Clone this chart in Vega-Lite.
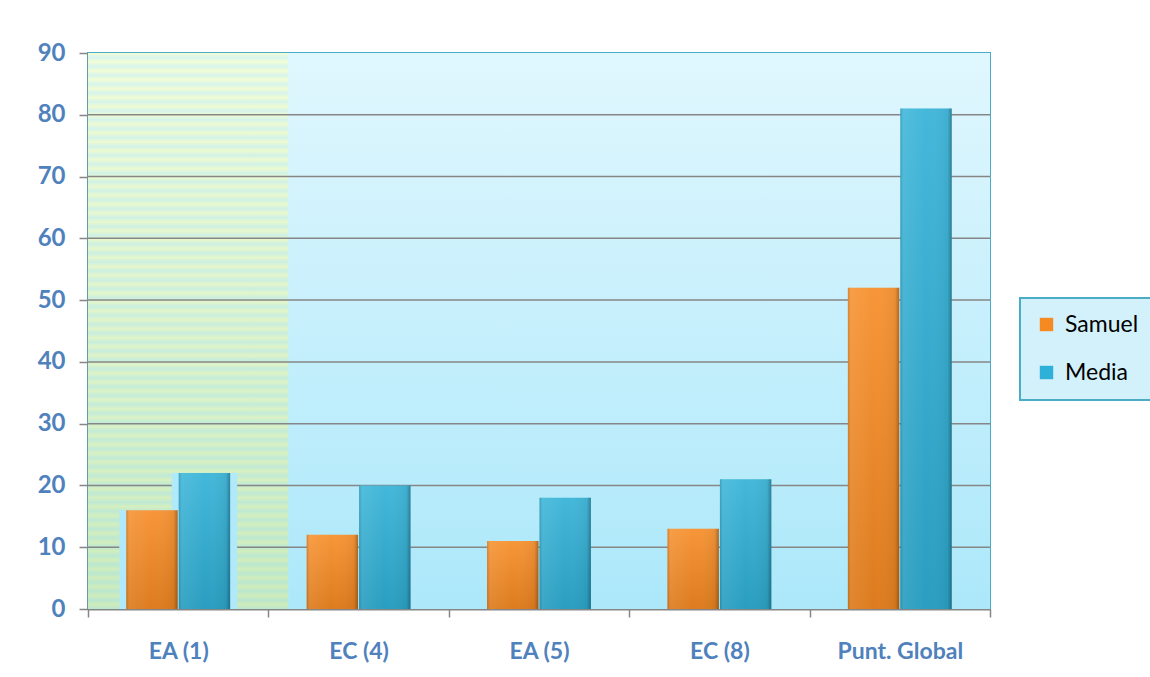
{
  "$schema": "https://vega.github.io/schema/vega-lite/v6.json",
  "width": 902,
  "height": 556,
  "autosize": {"type": "none"},
  "padding": {"left": 88, "top": 53, "right": 160, "bottom": 68},
  "background": "white",
  "config": {
    "view": {"stroke": "#4bacc6", "strokeWidth": 2},
    "font": "Lato",
    "axisX": {"domainColor": "#868686", "domainWidth": 2, "tickColor": "#868686", "tickWidth": 1.5, "tickSize": 8, "tickBand": "extent", "labelFont": "Lato", "labelFontWeight": "bold", "labelFontSize": 23, "labelColor": "#4f81bd", "labelPadding": 23, "grid": false, "labelAngle": 0},
    "axisY": {"domainColor": "#868686", "domainWidth": 2, "tickColor": "#868686", "tickWidth": 1.5, "tickSize": 9, "tickCount": 10, "labelFont": "Lato", "labelFontWeight": "bold", "labelFontSize": 24, "labelColor": "#4f81bd", "labelPadding": 14, "grid": false},
    "legend": {"orient": "none", "legendX": 932, "legendY": 245, "direction": "vertical", "fillColor": "#d3f1fb", "strokeColor": "#4bacc6", "strokeWidth": 2, "padding": 15, "symbolType": "square", "symbolSize": 180, "symbolStrokeWidth": 0, "labelFont": "Lato", "labelFontSize": 23, "labelColor": "#000000", "rowPadding": 24, "labelOffset": 7}
  },
  "datasets": {
    "scores": [
      {"cat": "EA (1)", "series": "Samuel", "value": 16},
      {"cat": "EA (1)", "series": "Media", "value": 22},
      {"cat": "EC (4)", "series": "Samuel", "value": 12},
      {"cat": "EC (4)", "series": "Media", "value": 20},
      {"cat": "EA (5)", "series": "Samuel", "value": 11},
      {"cat": "EA (5)", "series": "Media", "value": 18},
      {"cat": "EC (8)", "series": "Samuel", "value": 13},
      {"cat": "EC (8)", "series": "Media", "value": 21},
      {"cat": "Punt. Global", "series": "Samuel", "value": 52},
      {"cat": "Punt. Global", "series": "Media", "value": 81}
    ],
    "band": [{"cat": "EA (1)"}],
    "bg": [{"id": 1}],
    "grid": [{"v": 10}, {"v": 20}, {"v": 30}, {"v": 40}, {"v": 50}, {"v": 60}, {"v": 70}, {"v": 80}]
  },
  "layer": [
    {
      "data": {"name": "bg"},
      "mark": {"type": "rect", "fill": {"gradient": "linear", "x1": 0, "y1": 0, "x2": 0, "y2": 1, "stops": [{"offset": 0, "color": "#e0f7fe"}, {"offset": 1, "color": "#ace8fa"}]}},
      "encoding": {"y": {"datum": 0, "type": "quantitative", "title": null}, "y2": {"datum": 90}}
    },
    {
      "data": {"name": "band"},
      "mark": {"type": "bar", "clip": true, "width": {"band": 1.22}, "fill": {"gradient": "linear", "x1": 0, "y1": 0, "x2": 0, "y2": 1, "stops": [
        {"offset": 0, "color": "#f3fdd5"}, {"offset": 0.008, "color": "#d8f5ee"}, {"offset": 0.016, "color": "#f3fdd5"}, {"offset": 0.024, "color": "#d8f5ee"}, {"offset": 0.032, "color": "#f3fdd5"}, {"offset": 0.04, "color": "#d8f5ee"}, {"offset": 0.048, "color": "#f3fdd5"}, {"offset": 0.056, "color": "#d8f5ee"}, {"offset": 0.064, "color": "#f3fdd5"}, {"offset": 0.072, "color": "#d8f5ee"},
        {"offset": 0.08, "color": "#f3fdd5"}, {"offset": 0.088, "color": "#d8f5ee"}, {"offset": 0.096, "color": "#f3fdd5"}, {"offset": 0.104, "color": "#d8f5ee"}, {"offset": 0.112, "color": "#f3fdd5"}, {"offset": 0.12, "color": "#d8f5ee"}, {"offset": 0.128, "color": "#f3fdd5"}, {"offset": 0.136, "color": "#d8f5ee"}, {"offset": 0.144, "color": "#f3fdd5"}, {"offset": 0.152, "color": "#d8f5ee"},
        {"offset": 0.16, "color": "#f3fdd5"}, {"offset": 0.168, "color": "#d8f5ee"}, {"offset": 0.176, "color": "#f3fdd5"}, {"offset": 0.184, "color": "#d8f5ee"}, {"offset": 0.192, "color": "#f3fdd5"}, {"offset": 0.2, "color": "#d8f5ee"}, {"offset": 0.208, "color": "#f3fdd5"}, {"offset": 0.216, "color": "#d8f5ee"}, {"offset": 0.224, "color": "#f3fdd5"}, {"offset": 0.232, "color": "#d8f5ee"},
        {"offset": 0.24, "color": "#f3fdd5"}, {"offset": 0.248, "color": "#d8f5ee"}, {"offset": 0.256, "color": "#f3fdd5"}, {"offset": 0.264, "color": "#d8f5ee"}, {"offset": 0.272, "color": "#f3fdd5"}, {"offset": 0.28, "color": "#d8f5ee"}, {"offset": 0.288, "color": "#f3fdd5"}, {"offset": 0.296, "color": "#d8f5ee"}, {"offset": 0.304, "color": "#f3fdd5"}, {"offset": 0.312, "color": "#d8f5ee"},
        {"offset": 0.32, "color": "#f3fdd5"}, {"offset": 0.328, "color": "#d8f5ee"}, {"offset": 0.336, "color": "#f3fdd5"}, {"offset": 0.344, "color": "#d8f5ee"}, {"offset": 0.352, "color": "#f3fdd5"}, {"offset": 0.36, "color": "#d8f5ee"}, {"offset": 0.368, "color": "#f3fdd5"}, {"offset": 0.376, "color": "#d8f5ee"}, {"offset": 0.384, "color": "#f3fdd5"}, {"offset": 0.392, "color": "#d8f5ee"},
        {"offset": 0.4, "color": "#f3fdd5"}, {"offset": 0.408, "color": "#d8f5ee"}, {"offset": 0.416, "color": "#f3fdd5"}, {"offset": 0.424, "color": "#d8f5ee"}, {"offset": 0.432, "color": "#f3fdd5"}, {"offset": 0.44, "color": "#d8f5ee"}, {"offset": 0.448, "color": "#f3fdd5"}, {"offset": 0.456, "color": "#d8f5ee"}, {"offset": 0.464, "color": "#f3fdd5"}, {"offset": 0.472, "color": "#d8f5ee"},
        {"offset": 0.48, "color": "#f3fdd5"}, {"offset": 0.488, "color": "#d8f5ee"}, {"offset": 0.496, "color": "#f3fdd5"}, {"offset": 0.504, "color": "#d8f5ee"}, {"offset": 0.512, "color": "#f3fdd5"}, {"offset": 0.52, "color": "#d8f5ee"}, {"offset": 0.528, "color": "#f3fdd5"}, {"offset": 0.536, "color": "#d8f5ee"}, {"offset": 0.544, "color": "#f3fdd5"}, {"offset": 0.552, "color": "#d8f5ee"},
        {"offset": 0.56, "color": "#f3fdd5"}, {"offset": 0.568, "color": "#d8f5ee"}, {"offset": 0.576, "color": "#f3fdd5"}, {"offset": 0.584, "color": "#d8f5ee"}, {"offset": 0.592, "color": "#f3fdd5"}, {"offset": 0.6, "color": "#d8f5ee"}, {"offset": 0.608, "color": "#f3fdd5"}, {"offset": 0.616, "color": "#d8f5ee"}, {"offset": 0.624, "color": "#f3fdd5"}, {"offset": 0.632, "color": "#d8f5ee"},
        {"offset": 0.64, "color": "#f3fdd5"}, {"offset": 0.648, "color": "#d8f5ee"}, {"offset": 0.656, "color": "#f3fdd5"}, {"offset": 0.664, "color": "#d8f5ee"}, {"offset": 0.672, "color": "#f3fdd5"}, {"offset": 0.68, "color": "#d8f5ee"}, {"offset": 0.688, "color": "#f3fdd5"}, {"offset": 0.696, "color": "#d8f5ee"}, {"offset": 0.704, "color": "#f3fdd5"}, {"offset": 0.712, "color": "#d8f5ee"},
        {"offset": 0.72, "color": "#f3fdd5"}, {"offset": 0.728, "color": "#d8f5ee"}, {"offset": 0.736, "color": "#f3fdd5"}, {"offset": 0.744, "color": "#d8f5ee"}, {"offset": 0.752, "color": "#f3fdd5"}, {"offset": 0.76, "color": "#d8f5ee"}, {"offset": 0.768, "color": "#f3fdd5"}, {"offset": 0.776, "color": "#d8f5ee"}, {"offset": 0.784, "color": "#f3fdd5"}, {"offset": 0.792, "color": "#d8f5ee"},
        {"offset": 0.8, "color": "#f3fdd5"}, {"offset": 0.808, "color": "#d8f5ee"}, {"offset": 0.816, "color": "#f3fdd5"}, {"offset": 0.824, "color": "#d8f5ee"}, {"offset": 0.832, "color": "#f3fdd5"}, {"offset": 0.84, "color": "#d8f5ee"}, {"offset": 0.848, "color": "#f3fdd5"}, {"offset": 0.856, "color": "#d8f5ee"}, {"offset": 0.864, "color": "#f3fdd5"}, {"offset": 0.872, "color": "#d8f5ee"},
        {"offset": 0.88, "color": "#f3fdd5"}, {"offset": 0.888, "color": "#d8f5ee"}, {"offset": 0.896, "color": "#f3fdd5"}, {"offset": 0.904, "color": "#d8f5ee"}, {"offset": 0.912, "color": "#f3fdd5"}, {"offset": 0.92, "color": "#d8f5ee"}, {"offset": 0.928, "color": "#f3fdd5"}, {"offset": 0.936, "color": "#d8f5ee"}, {"offset": 0.944, "color": "#f3fdd5"}, {"offset": 0.952, "color": "#d8f5ee"},
        {"offset": 0.96, "color": "#f3fdd5"}, {"offset": 0.968, "color": "#d8f5ee"}, {"offset": 0.976, "color": "#f3fdd5"}, {"offset": 0.984, "color": "#d8f5ee"}, {"offset": 0.992, "color": "#f3fdd5"}, {"offset": 1, "color": "#d8f5ee"}
      ]}},
      "encoding": {
        "x": {"field": "cat", "type": "nominal", "title": null, "scale": {"domain": ["EA (1)", "EC (4)", "EA (5)", "EC (8)", "Punt. Global"], "paddingInner": 0, "paddingOuter": 0}},
        "y": {"datum": 0, "type": "quantitative", "title": null},
        "y2": {"datum": 90}
      }
    },
    {
      "data": {"name": "band"},
      "mark": {"type": "bar", "clip": true, "width": {"band": 1.22}, "fill": {"gradient": "linear", "x1": 0, "y1": 0, "x2": 0, "y2": 1, "stops": [{"offset": 0, "color": "rgba(40,160,60,0)"}, {"offset": 1, "color": "rgba(40,160,60,0.18)"}]}},
      "encoding": {
        "x": {"field": "cat", "type": "nominal", "title": null, "scale": {"domain": ["EA (1)", "EC (4)", "EA (5)", "EC (8)", "Punt. Global"], "paddingInner": 0, "paddingOuter": 0}},
        "y": {"datum": 0, "type": "quantitative", "title": null},
        "y2": {"datum": 90}
      }
    },
    {
      "data": {"name": "grid"},
      "mark": {"type": "rule", "color": "#868686", "strokeWidth": 1.5},
      "encoding": {"y": {"field": "v", "type": "quantitative", "title": null}}
    },
    {
      "data": {"name": "scores"},
      "encoding": {
        "x": {"field": "cat", "type": "nominal", "title": null, "scale": {"domain": ["EA (1)", "EC (4)", "EA (5)", "EC (8)", "Punt. Global"], "paddingInner": 0, "paddingOuter": 0}},
        "xOffset": {"field": "series", "type": "nominal", "scale": {"domain": ["Samuel", "Media"], "paddingOuter": 0.73, "paddingInner": 0.02}},
        "y": {"field": "value", "type": "quantitative", "title": null, "scale": {"domain": [0, 90], "nice": false}}
      },
      "layer": [
        {"transform": [{"filter": "datum.cat === 'EA (1)'"}], "mark": {"type": "bar", "clip": true, "yOffset": 7, "fill": "#b0e9f9", "stroke": "#b0e9f9", "strokeWidth": 14, "strokeJoin": "miter"}},
        {"mark": {"type": "bar"}, "encoding": {"color": {"field": "series", "type": "nominal", "title": null, "scale": {"domain": ["Samuel", "Media"], "range": ["#f68a22", "#2fb0d6"]}}}},
        {"mark": {"type": "bar", "fill": {"gradient": "linear", "x1": 0, "y1": 0, "x2": 0, "y2": 1, "stops": [{"offset": 0, "color": "rgba(255,255,255,0.1)"}, {"offset": 1, "color": "rgba(0,0,0,0.1)"}]}}},
        {"mark": {"type": "bar", "fill": {"gradient": "linear", "x1": 0, "y1": 0, "x2": 1, "y2": 0, "stops": [{"offset": 0, "color": "rgba(0,0,0,0.14)"}, {"offset": 0.06, "color": "rgba(255,255,255,0.08)"}, {"offset": 0.5, "color": "rgba(255,255,255,0)"}, {"offset": 0.92, "color": "rgba(0,0,0,0.05)"}, {"offset": 1, "color": "rgba(0,0,0,0.3)"}]}}}
      ]
    }
  ]
}
